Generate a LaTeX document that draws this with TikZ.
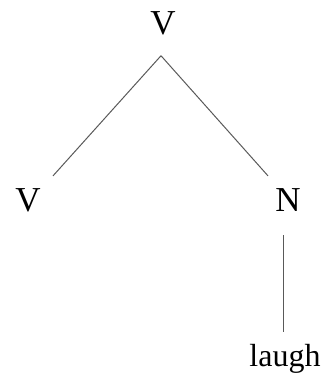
\documentclass[tikz,border=0pt]{standalone}
\usepackage{fontspec}
\setmainfont{Liberation Serif}
\usepackage{tikz}

\begin{document}
\begin{tikzpicture}[x=1pt, y=1pt,
    cat/.style={inner sep=0pt, anchor=base, font=\fontsize{35}{40}\selectfont},
    word/.style={inner sep=0pt, anchor=base, font=\fontsize{32}{36}\selectfont},
    branch/.style={line width=1pt, color=black!65}
]
\useasboundingbox (0,0) rectangle (326,385);
\node[cat]  (top)   at (163,350) {V};
\node[cat]  (left)  at (28,173)  {V};
\node[cat]  (right) at (288,173) {N};
\node[word] (leaf)  at (285,18)  {laugh};

\draw[branch] ([shift={(-2,-20)}]top.south) -- ([shift={(25,13)}]left.north);
\draw[branch] ([shift={(-2,-20)}]top.south) -- ([shift={(-20,13)}]right.north);
\draw[branch] ([shift={(-5,-23)}]right.south) -- ([shift={(-2,13)}]leaf.north);
\end{tikzpicture}
\end{document}
